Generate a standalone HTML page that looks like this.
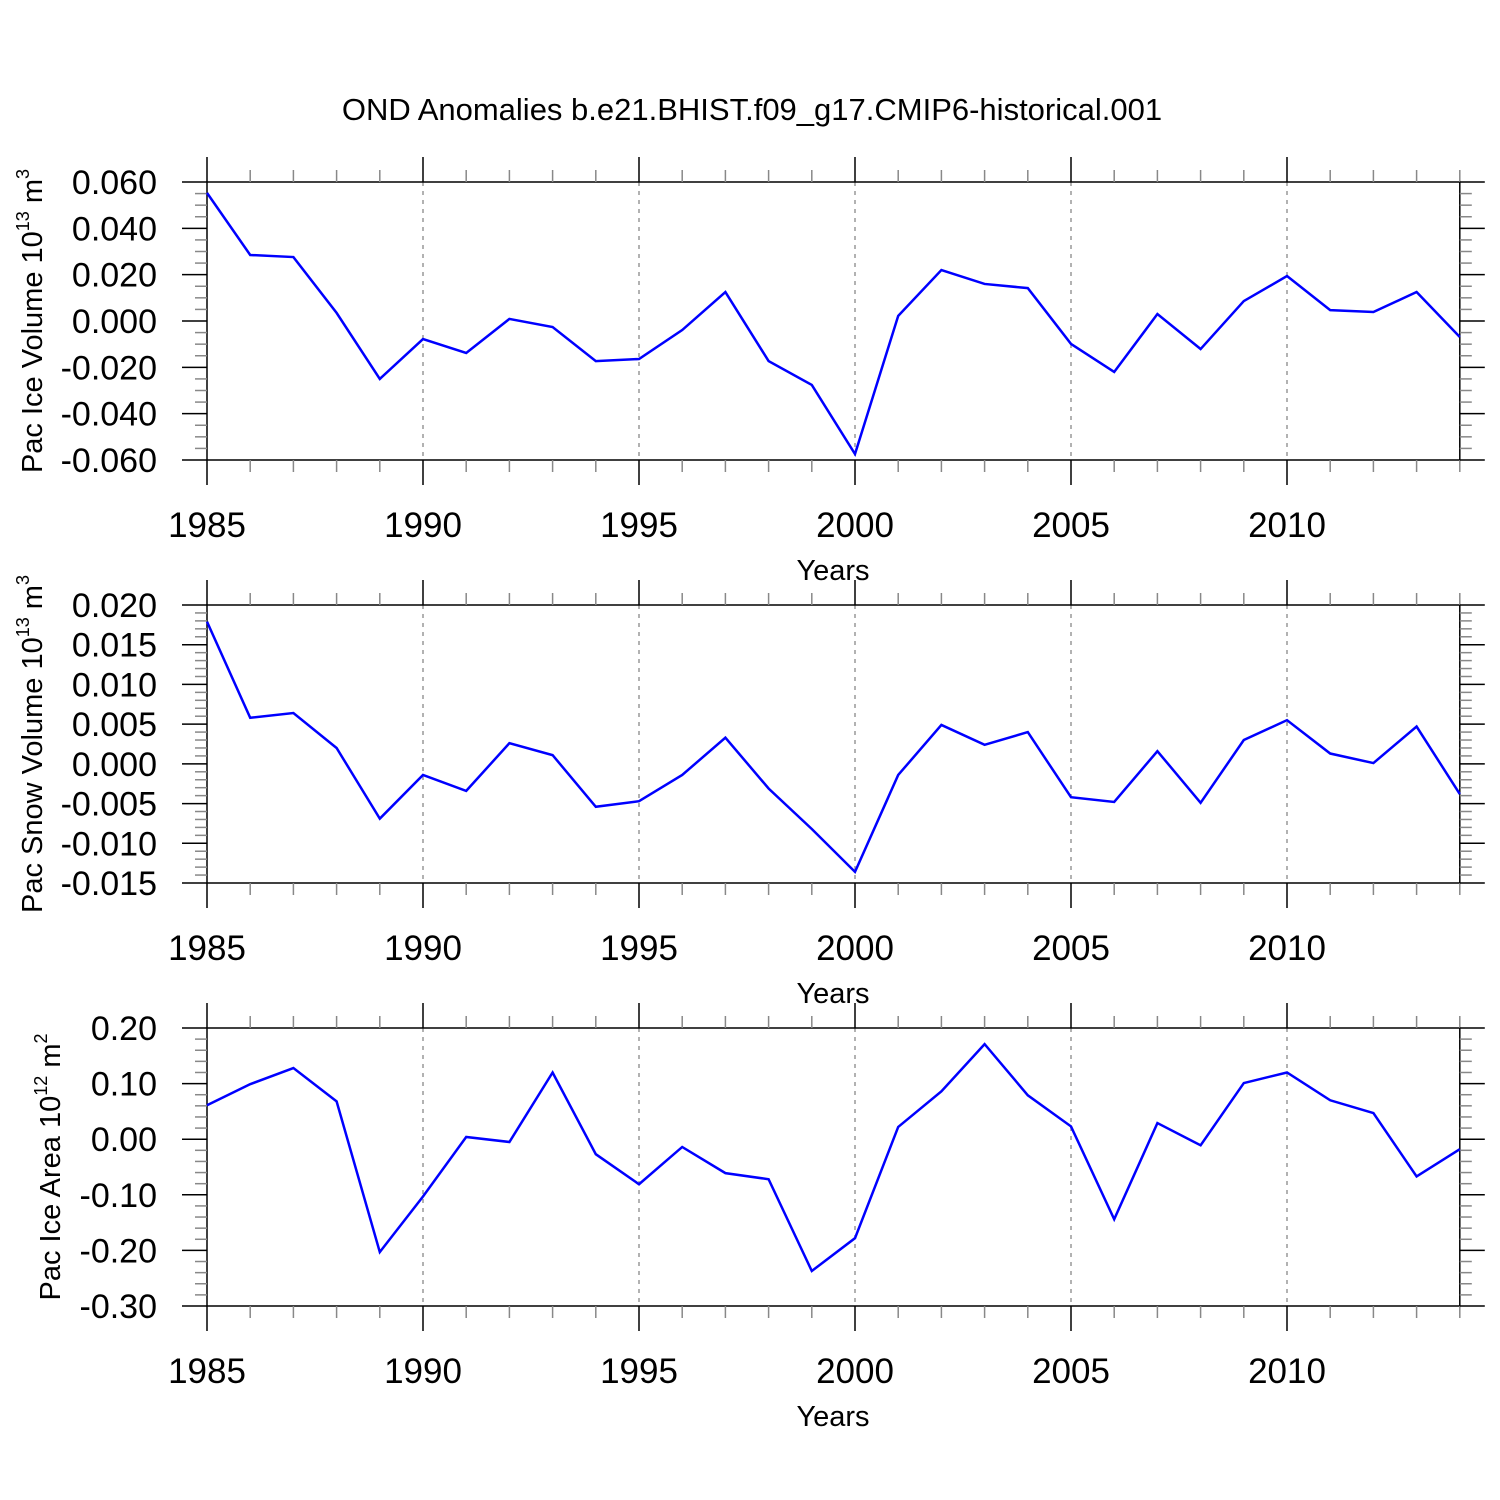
<!DOCTYPE html>
<html><head><meta charset="utf-8"><style>
body{margin:0;background:#fff}
svg{display:block;font-family:"Liberation Sans",sans-serif}
</style></head><body>
<svg id="c" width="1500" height="1500">
<text x="752" y="120" font-size="31" text-anchor="middle">OND Anomalies b.e21.BHIST.f09_g17.CMIP6-historical.001</text>
</svg>
<script>
const years=[1985,1986,1987,1988,1989,1990,1991,1992,1993,1994,1995,1996,1997,1998,1999,2000,2001,2002,2003,2004,2005,2006,2007,2008,2009,2010,2011,2012,2013,2014];
const iceVol=[0.0553,0.0285,0.0276,0.0035,-0.025,-0.0078,-0.0138,0.0009,-0.0026,-0.0173,-0.0164,-0.0039,0.0125,-0.0173,-0.0276,-0.0574,0.0022,0.022,0.016,0.0142,-0.0099,-0.022,0.003,-0.0121,0.0086,0.0194,0.0047,0.0039,0.0125,-0.0069];
const snowVol=[0.0179,0.0058,0.0064,0.002,-0.0069,-0.0014,-0.0034,0.0026,0.0011,-0.0054,-0.0047,-0.0014,0.0033,-0.0031,-0.0082,-0.0136,-0.0014,0.0049,0.0024,0.004,-0.0042,-0.0048,0.0016,-0.0049,0.003,0.0055,0.0013,0.0001,0.0047,-0.0038];
const iceArea=[0.061,0.099,0.128,0.068,-0.203,-0.103,0.004,-0.005,0.12,-0.027,-0.081,-0.014,-0.061,-0.072,-0.237,-0.178,0.022,0.086,0.171,0.079,0.023,-0.144,0.029,-0.011,0.101,0.12,0.07,0.047,-0.067,-0.018];
const xTicks=[1985,1990,1995,2000,2005,2010];
const yTicks1=["0.060","0.040","0.020","0.000","-0.020","-0.040","-0.060"];
const yTicks2=["0.020","0.015","0.010","0.005","0.000","-0.005","-0.010","-0.015"];
const yTicks3=["0.20","0.10","0.00","-0.10","-0.20","-0.30"];
const NS="http://www.w3.org/2000/svg",svg=document.getElementById('c');
function mk(t,a,p){const e=document.createElementNS(NS,t);for(const k in a)e.setAttribute(k,a[k]);(p||svg).appendChild(e);return e;}
const X0=207,X1=1459.8;
const sx=y=>X0+(y-1985)*(X1-X0)/29;
function panel(top,vals,ticks,minorStep,title,sup,unit,name){
  const bot=top+278,g=mk('g',{});
  
  
  const vmax=parseFloat(ticks[0]),vmin=parseFloat(ticks[ticks.length-1]);
  const sy=v=>top+(vmax-v)/(vmax-vmin)*278;
  xTicks.slice(1).forEach(t=>{const l=mk('line',{x1:sx(t),x2:sx(t),y1:top,y2:bot,stroke:'#999','stroke-width':1.5,'stroke-dasharray':'4 5'},g);
    });
  const r=mk('rect',{x:X0,y:top,width:X1-X0,height:278,fill:'none',stroke:'#000','stroke-width':1.5},g);
  
  years.forEach(y=>{const maj=(y-1985)%5===0;const L=maj?25:12;
    mk('line',{x1:sx(y),x2:sx(y),y1:top-L,y2:top,stroke:maj?'#000':'#888','stroke-width':1.5},g);
    mk('line',{x1:sx(y),x2:sx(y),y1:bot,y2:bot+L,stroke:maj?'#000':'#888','stroke-width':1.5},g);});
  const n=Math.round((vmax-vmin)/minorStep);
  for(let i=0;i<=n;i++){const v=vmax-i*minorStep,yy=sy(v);const maj=ticks.some(t=>Math.abs(parseFloat(t)-v)<minorStep/10);const L=maj?25:12;
    mk('line',{x1:X0-L,x2:X0,y1:yy,y2:yy,stroke:maj?'#000':'#888','stroke-width':1.5},g);
    mk('line',{x1:X1,x2:X1+L,y1:yy,y2:yy,stroke:maj?'#000':'#888','stroke-width':1.5},g);}
  ticks.forEach(t=>{const e=mk('text',{x:157,y:sy(parseFloat(t))+12,'font-size':34,'text-anchor':'end'},g);e.textContent=t;
    });
  xTicks.forEach(t=>{const e=mk('text',{x:sx(t),y:bot+77,'font-size':35,'text-anchor':'middle'},g);e.textContent=t;
    });
  const xt=mk('text',{x:833,y:bot+120,'font-size':29,'text-anchor':'middle'},g);xt.textContent='Years';
  
  const cy=(top+bot)/2,tx=title==='Pac Ice Area'?60:42;
  const yt=mk('text',{x:tx,y:cy,'font-size':29,'text-anchor':'middle',transform:`rotate(-90 ${tx} ${cy})`},g);
  
  yt.innerHTML=`${title} 10<tspan font-size="18" dy="-13">${sup}</tspan><tspan dy="13"> m</tspan><tspan font-size="18" dy="-13">${unit}</tspan>`;
  const p=mk('polyline',{points:vals.map((v,i)=>sx(years[i])+','+sy(v)).join(' '),fill:'none',stroke:'#0000ff','stroke-width':2.5},g);
  
}
panel(182,iceVol,yTicks1,0.005,'Pac Ice Volume','13','3','panel-ice-volume');
panel(605,snowVol,yTicks2,0.001,'Pac Snow Volume','13','3','panel-snow-volume');
panel(1028,iceArea,yTicks3,0.02,'Pac Ice Area','12','2','panel-ice-area');
</script>
</body></html>
